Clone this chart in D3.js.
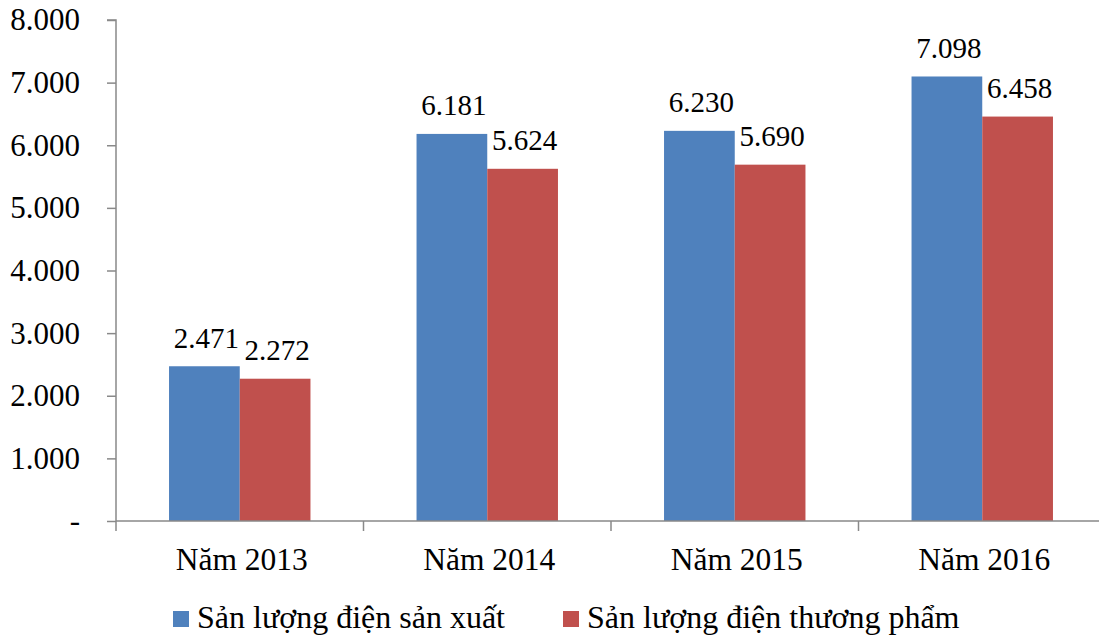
<!DOCTYPE html>
<html><head><meta charset="utf-8">
<script src="https://cdn.jsdelivr.net/npm/d3@7"></script>
<style>body{margin:0;background:#fff}svg{display:block}</style>
</head><body><svg id="c" width="1099" height="637"></svg>
<script>
const categories = ["Năm 2013","Năm 2014","Năm 2015","Năm 2016"];
const seriesNames = ["Sản lượng điện sản xuất","Sản lượng điện thương phẩm"];
const sanXuat = [2471, 6181, 6230, 7098];
const thuongPham = [2272, 5624, 5690, 6458];
const yTicks = [0,1000,2000,3000,4000,5000,6000,7000,8000];
const colors = ["#4F81BD","#C0504D"];

(function(){
const FONT = '"Liberation Serif"';
const svg = d3.select("#c");
const pLeft = 116, pRight = 1106, pTop = 20, pBottom = 521;
const fmt = v => v === 0 ? "-" : d3.format(",")(v).replace(/,/g,".");

const x = d3.scaleBand().domain(categories).range([pLeft,pRight]).paddingInner(0).paddingOuter(0);
const bw = x.bandwidth()/3.5;
const xs = d3.scaleBand().domain([0,1]).range([0,2*bw]);
const y = d3.scaleLinear().domain([0,8000]).range([pBottom, pTop]);
const series = [sanXuat, thuongPham];

series.forEach((vals, si) => {
  svg.append("g").selectAll("rect").data(vals).join("rect")
    .attr("x", (d,i) => x(categories[i]) + 0.75*bw + xs(si))
    .attr("y", d => y(d))
    .attr("width", xs.bandwidth())
    .attr("height", d => y(0) - y(d))
    .attr("fill", colors[si]);
  svg.append("g").selectAll("text").data(vals).join("text")
    .attr("x", (d,i) => x(categories[i]) + 0.75*bw + xs(si) + xs.bandwidth()/2 + 2)
    .attr("y", d => y(d) - 18.5)
    .attr("text-anchor","middle")
    .style("font-family", FONT).style("font-size","29px").style("fill","#000")
    .text(d => fmt(d));
});

const yAxis = d3.axisLeft(y).tickValues(yTicks).tickFormat(fmt).tickSize(9).tickPadding(27);
const gy = svg.append("g").attr("transform",`translate(${pLeft},0)`).call(yAxis);
gy.select(".domain").attr("stroke","#898989").attr("stroke-width",1.5).attr("d",`M-9,${pTop}H0V${pBottom}`);
gy.selectAll(".tick line").attr("stroke","#898989").attr("stroke-width",1.5);
gy.selectAll(".tick text").style("font-family",FONT).style("font-size","31px").style("fill","#000").attr("dy","0.32em");

const gx = svg.append("g").attr("transform",`translate(0,${pBottom})`);
gx.append("line").attr("x1",pLeft).attr("x2",pRight).attr("stroke","#898989").attr("stroke-width",1.5);
gx.selectAll("line.t").data(d3.range(categories.length+1)).join("line").attr("class","t")
  .attr("x1", i => pLeft + i*x.bandwidth()).attr("x2", i => pLeft + i*x.bandwidth())
  .attr("y1",0).attr("y2",10).attr("stroke","#898989").attr("stroke-width",1.5);
gx.selectAll("text").data(categories).join("text")
  .attr("x", d => x(d) + x.bandwidth()/2 + 2).attr("y", 49)
  .attr("text-anchor","middle")
  .style("font-family",FONT).style("font-size","31.5px").style("fill","#000").text(d => d);

const legX = [173, 563];
const lg = svg.append("g");
seriesNames.forEach((n,i) => {
  lg.append("rect").attr("x",legX[i]).attr("y",611).attr("width",16).attr("height",16).attr("fill",colors[i]);
  lg.append("text").attr("x",legX[i]+24).attr("y",628)
    .style("font-family",FONT).style("font-size","32px").style("fill","#000").text(n);
});
})();
</script></body></html>
